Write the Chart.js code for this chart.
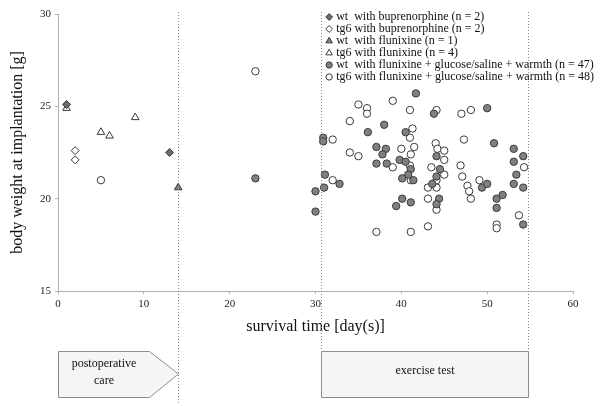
<!DOCTYPE html>
<html><head><meta charset="utf-8">
<script src="https://cdn.jsdelivr.net/npm/chart.js@4/dist/chart.umd.min.js"></script>
<style>html,body{margin:0;padding:0;background:#fff}#wrap{width:600px;height:406px}</style>
</head><body><div id="wrap"><canvas id="c" width="600" height="406"></canvas></div>
<script>
// ---- data ----
const seriesLabels = [
  'wt  with buprenorphine (n = 2)',
  'tg6 with buprenorphine (n = 2)',
  'wt  with flunixine (n = 1)',
  'tg6 with flunixine (n = 4)',
  'wt  with flunixine + glucose/saline + warmth (n = 47)',
  'tg6 with flunixine + glucose/saline + warmth (n = 48)'
];
const wtBupDays = [1, 13];
const wtBupWeights = [25.1, 22.5];
const tg6BupDays = [2, 2];
const tg6BupWeights = [22.6, 22.1];
const wtFluDays = [14];
const wtFluWeights = [20.6];
const tg6FluDays = [1, 5, 6, 9];
const tg6FluWeights = [24.9, 23.6, 23.4, 24.4];
const wtFullDays = [23, 30, 30, 30.9, 30.9, 31.1, 32.8, 31, 36.1, 38, 37.1, 38.2, 37.8, 39.8, 37.1, 38.3, 39.4, 41.7, 43.8, 40.5, 50, 44.1, 40.5, 44.5, 41.1, 40.8, 40.1, 41.4, 44.1, 43.6, 49.4, 50, 44.4, 44.1, 40.1, 41.1, 50.8, 53.1, 54.2, 53.1, 53.4, 53.1, 54.2, 51.1, 51.8, 51.1, 54.2];
const wtFullWeights = [21.1, 20.4, 19.3, 23.3, 23.1, 21.3, 20.8, 20.6, 23.6, 24.0, 22.8, 22.7, 22.4, 22.1, 21.9, 21.9, 19.6, 25.7, 24.6, 23.6, 24.9, 22.3, 22.0, 21.6, 21.6, 21.3, 21.1, 21.0, 21.2, 20.8, 20.6, 20.8, 20.0, 19.7, 20.0, 19.8, 23.0, 22.7, 22.3, 22.0, 21.3, 20.8, 20.6, 20.0, 20.2, 19.5, 18.6];
const tg6FullDays = [5, 23, 35, 36, 36, 34, 32, 39, 34, 35, 39, 32, 37.1, 41, 44.1, 41.3, 41, 40, 41.5, 44, 44.2, 45, 45, 47, 48.1, 47.3, 41, 43.5, 46.9, 45, 43.1, 44.1, 47.1, 47.7, 47.9, 49.1, 48.1, 43.1, 44.1, 43.1, 41.1, 41.1, 41.1, 44.1, 54.3, 51.1, 51.1, 53.7];
const tg6FullWeights = [21.0, 26.9, 25.1, 24.9, 24.6, 24.2, 23.2, 25.3, 22.5, 22.3, 21.7, 21.0, 18.2, 24.8, 24.8, 23.8, 23.3, 22.7, 22.8, 23.0, 22.7, 22.6, 22.1, 24.6, 24.8, 23.2, 21.8, 21.7, 21.8, 21.3, 20.6, 20.6, 21.2, 20.7, 20.4, 21.0, 20.0, 20.0, 19.4, 18.5, 18.2, 22.4, 21.0, 21.0, 21.7, 18.6, 18.4, 19.1];

const xTicks = [0, 10, 20, 30, 40, 50, 60];
const yTicks = [15, 20, 25, 30];
const xTitle = 'survival time [day(s)]';
const yTitle = 'body weight at implantation [g]';
// phase markers (days)
const postopStart = 0, postopEnd = 14;
const exerciseStart = 30.6, exerciseEnd = 54.7;
const phaseLabels = [['postoperative', 'care'], ['exercise test']];

// ---- build ----
const FAM = '"Liberation Serif", "Times New Roman", serif';
const pts = (xs, ys) => xs.map((x, i) => ({x, y: ys[i]}));
const FILL = '#808080', EDGE = '#3a3a3a';
const styles = [
  {pointStyle: 'rectRot', radius: 4, bg: '#6b6b6b'},
  {pointStyle: 'rectRot', radius: 4, bg: '#ffffff'},
  {pointStyle: 'triangle', radius: 4.4, bg: FILL},
  {pointStyle: 'triangle', radius: 4.4, bg: '#ffffff'},
  {pointStyle: 'circle', radius: 3.7, bg: FILL},
  {pointStyle: 'circle', radius: 3.7, bg: '#ffffff'}
];
const seriesData = [
  pts(wtBupDays, wtBupWeights), pts(tg6BupDays, tg6BupWeights),
  pts(wtFluDays, wtFluWeights), pts(tg6FluDays, tg6FluWeights),
  pts(wtFullDays, wtFullWeights), pts(tg6FullDays, tg6FullWeights)
];
const datasets = seriesData.map((d, i) => ({
  label: seriesLabels[i], data: d,
  pointStyle: styles[i].pointStyle, pointRadius: styles[i].radius,
  pointBackgroundColor: styles[i].bg, pointBorderColor: EDGE, pointBorderWidth: 1,
  backgroundColor: styles[i].bg, borderColor: EDGE
}));

const annotate = {
  id: 'annotate',
  afterDraw(chart) {
    const ctx = chart.ctx, xs = chart.scales.x, area = chart.chartArea;
    ctx.save();
    // dotted vertical lines
    ctx.strokeStyle = '#8a8a8a'; ctx.lineWidth = 1; ctx.setLineDash([1, 2]);
    const boxTop = area.bottom + 60, boxBot = area.bottom + 106;
    const vline = (v, y1, y2) => {
      const x = Math.round(xs.getPixelForValue(v)) + 0.5;
      ctx.beginPath(); ctx.moveTo(x, y1); ctx.lineTo(x, y2); ctx.stroke();
    };
    vline(postopEnd, area.top - 2, chart.height - 2);
    vline(exerciseStart, area.top - 2, boxTop);
    vline(exerciseEnd, area.top - 2, boxTop);
    ctx.setLineDash([]);
    // phase boxes
    ctx.fillStyle = '#f5f5f5'; ctx.strokeStyle = '#8c8c8c';
    const p0 = Math.round(xs.getPixelForValue(postopStart)) + 0.5;
    const pTip = Math.round(xs.getPixelForValue(postopEnd)) + 0.5;
    const pBody = pTip - 29;
    const mid = (boxTop + boxBot) / 2;
    ctx.beginPath();
    ctx.moveTo(p0, boxTop + 0.5); ctx.lineTo(pBody, boxTop + 0.5); ctx.lineTo(pTip, mid);
    ctx.lineTo(pBody, boxBot + 0.5); ctx.lineTo(p0, boxBot + 0.5); ctx.closePath();
    ctx.fill(); ctx.stroke();
    const e0 = Math.round(xs.getPixelForValue(exerciseStart)) + 0.5;
    const e1 = Math.round(xs.getPixelForValue(exerciseEnd)) + 0.5;
    ctx.beginPath(); ctx.rect(e0, boxTop + 0.5, e1 - e0, boxBot - boxTop); ctx.fill(); ctx.stroke();
    ctx.fillStyle = '#111'; ctx.font = '12px ' + FAM; ctx.textAlign = 'center'; ctx.textBaseline = 'middle';
    const pc = (p0 + pBody) / 2;
    ctx.fillText(phaseLabels[0][0], pc, mid - 10);
    ctx.fillText(phaseLabels[0][1], pc, mid + 7);
    ctx.fillText(phaseLabels[1][0], (e0 + e1) / 2, mid - 3);
    // legend
    ctx.textAlign = 'left'; ctx.font = '12px ' + FAM;
    chart.data.datasets.forEach((ds, i) => {
      const y = area.top + 3 + i * 12;
      const mx = xs.getPixelForValue(exerciseStart) + 8.5;
      ctx.fillStyle = ds.pointBackgroundColor; ctx.strokeStyle = ds.pointBorderColor; ctx.lineWidth = 1;
      Chart.helpers.drawPoint(ctx, {pointStyle: ds.pointStyle, radius: ds.pointRadius * 0.85, borderWidth: 1, rotation: 0}, mx, y);
      ctx.fillStyle = '#111';
      ctx.fillText(ds.label, mx + 7, y);
    });
    ctx.restore();
  }
};

new Chart(document.getElementById('c'), {
  type: 'scatter',
  data: {datasets},
  plugins: [annotate],
  options: {
    responsive: false, animation: false, devicePixelRatio: 1,
    layout: {padding: {left: 0, right: 27, top: 14, bottom: 0}},
    plugins: {legend: {display: false}, tooltip: {enabled: false}},
    scales: {
      x: {
        type: 'linear', min: xTicks[0], max: xTicks[xTicks.length - 1],
        afterBuildTicks: s => { s.ticks = xTicks.map(v => ({value: v})); },
        afterFit: s => { s.height = 115; },
        ticks: {font: {family: FAM, size: 11}, color: '#222', padding: 4, maxRotation: 0},
        grid: {drawOnChartArea: false, tickLength: 3, color: '#b0b0b0'},
        border: {color: '#b0b0b0'},
        title: {display: true, text: xTitle, color: '#111', font: {family: FAM, size: 16}, padding: {top: 0, bottom: 70}}
      },
      y: {
        type: 'linear', min: yTicks[0], max: yTicks[yTicks.length - 1],
        afterBuildTicks: s => { s.ticks = yTicks.map(v => ({value: v})); },
        afterFit: s => { s.width = 58; },
        ticks: {font: {family: FAM, size: 11}, color: '#222', padding: 4},
        grid: {drawOnChartArea: false, tickLength: 3, color: '#b0b0b0'},
        border: {color: '#b0b0b0'},
        title: {display: true, text: yTitle, color: '#111', font: {family: FAM, size: 16}, padding: {top: 8, bottom: 0}}
      }
    }
  }
});
</script></body></html>
